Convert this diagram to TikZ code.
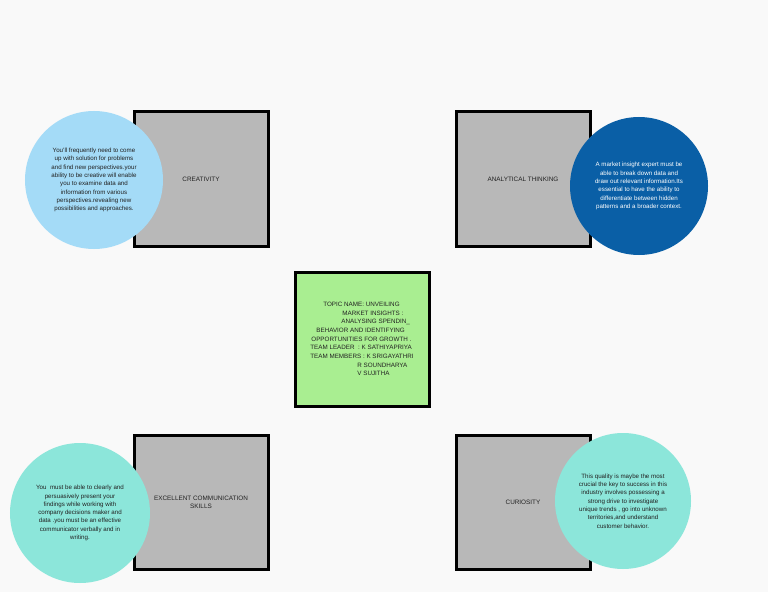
\documentclass[tikz,border=0pt]{standalone}
\usepackage{fontspec}
\setmainfont{Liberation Sans}
\usetikzlibrary{positioning}

\definecolor{fondo}{HTML}{F9F9F9}
\definecolor{grisbox}{HTML}{B8B8B8}
\definecolor{verdetema}{HTML}{A9EE91}
\definecolor{azulclaro}{HTML}{A4DBF7}
\definecolor{azuloscuro}{HTML}{0A5FA6}
\definecolor{turquesa}{HTML}{8CE6DA}
\definecolor{textogris}{HTML}{222222}

\begin{document}
\begin{tikzpicture}[
        x=1bp, y=-1bp,
        cuadro/.style={draw=black, line width=3bp, fill=grisbox, minimum width=134bp, minimum height=134bp, align=center, text=textogris, font=\fontsize{6.4}{8.4}\selectfont},
        tema/.style={cuadro, fill=verdetema},
        burbuja/.style={circle, minimum size=138bp, inner sep=0pt, align=center, text=textogris, font=\fontsize{6.2}{8.3}\selectfont},
    ]
        \fill[fondo] (0,0) rectangle (768,592);
        \useasboundingbox (0,0) rectangle (768,592);

        % cuadros de habilidades
        \node[cuadro] (creativity) at (201,179) {CREATIVITY};
        \node[cuadro] (analytical) at (523,179) {ANALYTICAL THINKING};
        \node[cuadro] (communication) at (201,502) {EXCELLENT COMMUNICATION\\SKILLS};
        \node[cuadro] (curiosity) at (523,502) {CURIOSITY};

        % cuadro central
        \node[tema, align=left, font=\fontsize{6.3}{8.7}\selectfont] (topic) at (362,339) {%
            \hspace*{13bp}TOPIC NAME: UNVEILING\\
            \hspace*{32bp}MARKET INSIGHTS :\\
            \hspace*{31bp}ANALYSING SPENDIN\_\\
            \hspace*{6bp}BEHAVIOR AND IDENTIFYING\\
            \hspace*{1bp}OPPORTUNITIES FOR GROWTH .\\
            TEAM LEADER\ \ : K SATHIYAPRIYA\\
            TEAM MEMBERS : K SRIGAYATHRI\\
            \hspace*{47bp}R SOUNDHARYA\\
            \hspace*{47bp}V SUJITHA};

        % burbujas descriptivas
        \node[burbuja, fill=azulclaro] (creativity-text) at (94,180) {You'll frequently need to come\\up with solution for problems\\and find new perspectives.your\\ability to be creative will enable\\you to examine data and\\information from various\\perspectives.revealing new\\possibilities and approaches.};
        \node[burbuja, fill=azuloscuro, text=white] (analytical-text) at (639,186) {A market insight expert must be\\able to break down data and\\draw out relevant information.Its\\essential to have the ability to\\differentiate between hidden\\patterns and a broader context.};
        \node[burbuja, fill=turquesa, minimum size=140bp] (communication-text) at (80,513) {You\ \ must be able to clearly and\\persuasively present your\\findings while working with\\company decisions maker and\\data .you must be an effective\\communicator verbally and in\\writing.};
        \node[burbuja, fill=turquesa, minimum size=136bp] (curiosity-text) at (623,501) {This quality is maybe the most\\crucial the key to success in this\\industry involves possessing a\\strong drive to investigate\\unique trends , go into unknown\\territories,and understand\\customer behavior.};
    \end{tikzpicture}
\end{document}
